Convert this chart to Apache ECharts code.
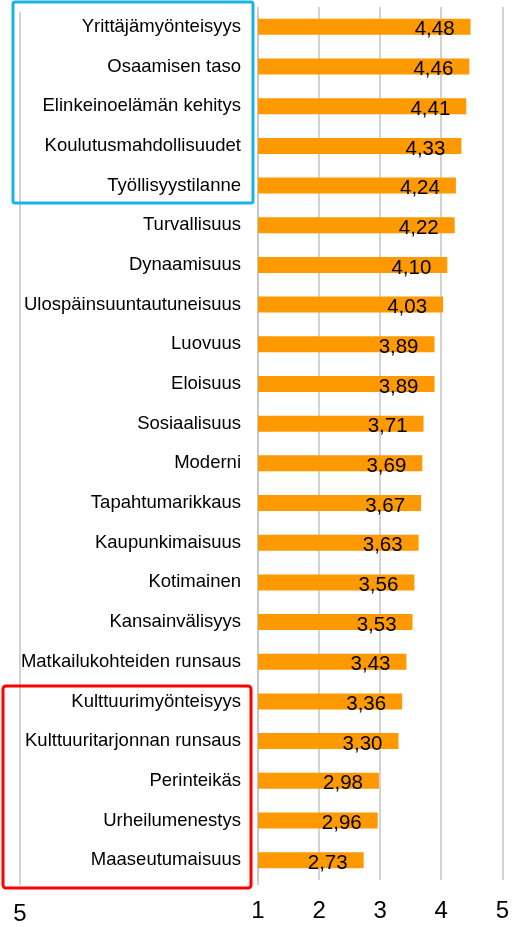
<!DOCTYPE html>
<html>
<head>
<meta charset="utf-8">
<script src="https://cdn.jsdelivr.net/npm/echarts@6/dist/echarts.min.js"></script>
<style>
  html, body { margin: 0; padding: 0; background: #fff; }
  #chart { width: 512px; height: 927px; }
</style>
</head>
<body>
<div id="chart"></div>
<script>
// categories, top to bottom
const categories = [
  'Yrittäjämyönteisyys', 'Osaamisen taso', 'Elinkeinoelämän kehitys',
  'Koulutusmahdollisuudet', 'Työllisyystilanne', 'Turvallisuus',
  'Dynaamisuus', 'Ulospäinsuuntautuneisuus', 'Luovuus', 'Eloisuus',
  'Sosiaalisuus', 'Moderni', 'Tapahtumarikkaus', 'Kaupunkimaisuus',
  'Kotimainen', 'Kansainvälisyys', 'Matkailukohteiden runsaus',
  'Kulttuurimyönteisyys', 'Kulttuuritarjonnan runsaus', 'Perinteikäs',
  'Urheilumenestys', 'Maaseutumaisuus'
]
const values = [
  4.48, 4.46, 4.41, 4.33, 4.24, 4.22, 4.10, 4.03, 3.89, 3.89, 3.71,
  3.69, 3.67, 3.63, 3.56, 3.53, 3.43, 3.36, 3.30, 2.98, 2.96, 2.73
]
const axisMin = 1
const axisMax = 5

const font = 'Liberation Sans, Arial, sans-serif'
const gridColor = '#c4c4c4'

const chart = echarts.init(document.getElementById('chart'))

const option = {
  animation: false,
  grid: [
    { left: 258, right: 9, top: 7, bottom: 47 },
    { left: 20, width: 238, top: 12, bottom: 42 } // stray "5" line on the left
  ],
  xAxis: [
    {
      type: 'value',
      gridIndex: 0,
      min: axisMin,
      max: axisMax,
      interval: 1,
      axisLine: { show: false },
      axisTick: { show: false },
      splitLine: { lineStyle: { color: gridColor, width: 1.5 } },
      axisLabel: { fontFamily: font, fontSize: 24, color: '#000', margin: 19 }
    },
    {
      type: 'value',
      gridIndex: 1,
      min: 5,
      max: 6,
      interval: 1,
      axisLine: { show: false },
      axisTick: { show: false },
      splitLine: { lineStyle: { color: gridColor, width: 1.5 } },
      axisLabel: {
        fontFamily: font, fontSize: 24, color: '#000', margin: 17,
        formatter: v => (v === 5 ? '5' : '')
      }
    }
  ],
  yAxis: [
    {
      type: 'category',
      gridIndex: 0,
      data: categories,
      inverse: true,
      axisLine: { show: false },
      axisTick: { show: false },
      axisLabel: { fontFamily: font, fontSize: 18.5, color: '#000', margin: 17 }
    },
    {
      type: 'category',
      gridIndex: 1,
      data: categories,
      show: false
    }
  ],
  series: [
    {
      type: 'bar',
      xAxisIndex: 0,
      yAxisIndex: 0,
      data: values,
      barWidth: 16,
      clip: true,
      itemStyle: { color: '#FF9900' },
      label: {
        show: true,
        position: 'insideRight',
        offset: [-11, 3],
        fontFamily: font,
        fontSize: 20.5,
        color: '#000',
        formatter: p => p.value.toFixed(2).replace('.', ',')
      }
    }
  ],
  graphic: [
    {
      type: 'rect',
      shape: { x: 13, y: 2, width: 240, height: 201, r: 2 },
      style: { fill: 'none', stroke: '#1AB2EA', lineWidth: 3 },
      z: 100
    },
    {
      type: 'rect',
      shape: { x: 3, y: 686, width: 248, height: 202, r: 3 },
      style: { fill: 'none', stroke: '#FF0000', lineWidth: 3 },
      z: 100
    }
  ]
}

chart.setOption(option)
window.addEventListener('resize', () => chart.resize())
</script>
</body>
</html>
